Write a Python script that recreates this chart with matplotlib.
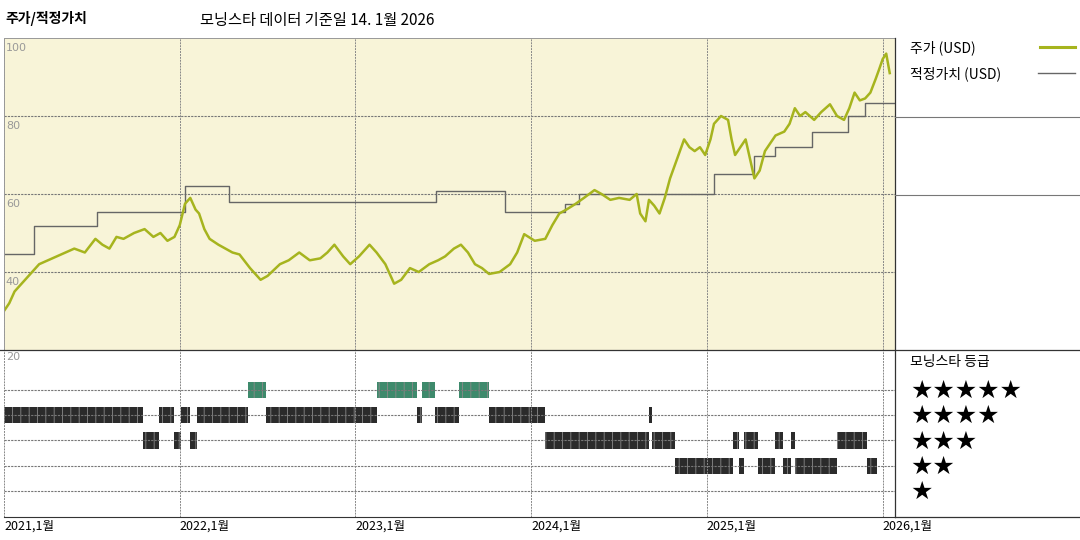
import matplotlib.pyplot as plt
from matplotlib.lines import Line2D

plt.rcParams['font.family'] = ['Noto Sans CJK KR', 'DejaVu Sans']
plt.rcParams['hatch.linewidth'] = 0.6

# price (decimal year, USD)
price_t = [2021.00, 2021.03, 2021.06, 2021.08, 2021.12, 2021.16, 2021.2, 2021.25, 2021.3, 2021.35, 2021.4,
           2021.46, 2021.52, 2021.56, 2021.6, 2021.64, 2021.68, 2021.74, 2021.8, 2021.85, 2021.89, 2021.93,
           2021.97, 2022.0, 2022.03, 2022.06, 2022.09, 2022.11, 2022.14, 2022.17, 2022.22, 2022.26, 2022.3,
           2022.34, 2022.4, 2022.46, 2022.5, 2022.57, 2022.62, 2022.68, 2022.74, 2022.8, 2022.84, 2022.88,
           2022.93, 2022.97, 2023.02, 2023.08, 2023.12, 2023.17, 2023.22, 2023.26, 2023.31, 2023.36, 2023.42,
           2023.47, 2023.51, 2023.56, 2023.6, 2023.64, 2023.68, 2023.72, 2023.76, 2023.82, 2023.88, 2023.92,
           2023.96, 2024.02, 2024.08, 2024.12, 2024.16, 2024.2, 2024.25, 2024.3, 2024.36, 2024.4, 2024.45,
           2024.5, 2024.56, 2024.6, 2024.62, 2024.65, 2024.67, 2024.7, 2024.73, 2024.76, 2024.79, 2024.83,
           2024.87, 2024.9, 2024.93, 2024.96, 2024.99, 2025.02, 2025.04, 2025.08, 2025.12, 2025.14, 2025.16,
           2025.19, 2025.22, 2025.25, 2025.27, 2025.3, 2025.33, 2025.36, 2025.39, 2025.44, 2025.47, 2025.5,
           2025.53, 2025.56, 2025.61, 2025.65, 2025.7, 2025.74, 2025.78, 2025.81, 2025.84, 2025.87, 2025.9,
           2025.93, 2025.96, 2025.98, 2026.0, 2026.02, 2026.04]
price_v = [30, 32, 35, 36, 38, 40, 42, 43, 44, 45, 46,
           45, 48.5, 47, 46, 49, 48.5, 50, 51, 49, 50, 48,
           49, 52, 57.5, 59, 56, 55, 51, 48.5, 47, 46, 45,
           44.5, 41, 38, 39, 42, 43, 45, 43, 43.5, 45, 47,
           44, 42, 44, 47, 45, 42, 37, 38, 41, 40, 42,
           43, 44, 46, 47, 45, 42, 41, 39.5, 40, 42, 45,
           49.7, 48, 48.5, 52, 55, 56, 57.4, 59, 61, 60, 58.5,
           59, 58.5, 60, 55, 53, 58.5, 57, 55, 59, 64, 69,
           74, 72, 71, 72, 70, 74, 78, 80, 79, 74, 70,
           72, 74, 68, 64, 66, 71, 73, 75, 76, 78, 82,
           80, 81, 79, 81, 83, 80, 79, 82, 86, 84, 84.5,
           86, 89.5, 92, 94.6, 96, 91]

# fair value steps (start year, USD)
fv_t = [2021.0, 2021.17, 2021.53, 2022.03, 2022.28, 2023.46, 2023.85, 2024.19, 2024.27, 2025.04,
        2025.27, 2025.39, 2025.6, 2025.8, 2025.9, 2026.07]
fv_v = [44.6, 51.8, 55.4, 62, 58, 60.8, 55.4, 57.4, 60, 65, 69.7, 72, 76, 80, 83.3, 83.3]

# star rating segments (start, end, stars)
rating_seg = [(2021.0, 2021.79, 4), (2021.79, 2021.88, 3), (2021.88, 2021.97, 4), (2021.97, 2022.01, 3),
              (2022.01, 2022.06, 4), (2022.06, 2022.10, 3), (2022.10, 2022.39, 4), (2022.39, 2022.49, 5),
              (2022.49, 2023.12, 4), (2023.12, 2023.35, 5), (2023.35, 2023.38, 4), (2023.38, 2023.45, 5),
              (2023.45, 2023.59, 4), (2023.59, 2023.76, 5), (2023.76, 2024.08, 4), (2024.08, 2024.67, 3),
              (2024.67, 2024.69, 4), (2024.69, 2024.82, 3), (2024.82, 2025.15, 2), (2025.15, 2025.18, 3),
              (2025.18, 2025.21, 2), (2025.21, 2025.29, 3), (2025.29, 2025.39, 2), (2025.39, 2025.43, 3),
              (2025.43, 2025.48, 2), (2025.48, 2025.50, 3), (2025.50, 2025.74, 2), (2025.74, 2025.91, 3),
              (2025.91, 2025.97, 2)]

years = [2021, 2022, 2023, 2024, 2025, 2026]
xmin, xmax = 2021.0, 2026.07

fig = plt.figure(figsize=(10.8, 5.4), dpi=100)
ax = fig.add_axes([4/1080, 1-350/540, 891/1080, 312/540])
ax2 = fig.add_axes([4/1080, 1-517/540, 891/1080, 167/540])

ax.set_facecolor('#f8f4d8')
ax.set_xlim(xmin, xmax)
ax.set_ylim(20, 100)
for y in [40, 60, 80]:
    ax.axhline(y, color='#777', lw=0.8, ls=(0, (2, 1)))
for y in years:
    ax.axvline(y, color='#888', lw=0.7, ls=(0, (2, 1)))
ax.plot(fv_t, fv_v, drawstyle='steps-post', color='#666', lw=1)
ax.plot(price_t, price_v, color='#a6b41e', lw=1.8)
for y in [100, 80, 60, 40]:
    ax.text(2021.01, y - 1.2, str(y), color='#999', fontsize=8, va='top', family=['DejaVu Sans'])
ax.set_xticks([]); ax.set_yticks([])
for s in ax.spines.values():
    s.set_color('#999'); s.set_linestyle((0, (2, 1))); s.set_linewidth(0.7)
ax.spines['right'].set_visible(False)

ax2.set_xlim(xmin, xmax)
ax2.set_ylim(-0.03, 6.58)
for r in range(1, 6):
    ax2.axhline(r, color='#777', lw=0.8, ls=(0, (2, 1)))
for y in years:
    ax2.axvline(y, color='#888', lw=0.7, ls=(0, (2, 1)))
for s0, s1, r in rating_seg:
    c = '#3e8a6c' if r == 5 else '#2b2b2b'
    ax2.broken_barh([(s0, s1 - s0)], (r - 0.32, 0.64), facecolor=c, edgecolor='#8a8a8a',
                    hatch='||', lw=0)
ax2.text(2021.01, 6.3, '20', color='#999', fontsize=8, va='center', family=['DejaVu Sans'])
ax2.set_xticks([]); ax2.set_yticks([])
for k in ['top', 'right', 'left']:
    ax2.spines[k].set_visible(False)
ax2.spines['bottom'].set_color('#333')
for y in years:
    ax2.text(y, -0.15, f'{y},1월', fontsize=9, va='top', ha='left')

# outer frame lines
fig.add_artist(Line2D([895/1080, 895/1080], [1-38/540, 1-517/540], color='#333', lw=0.9))
fig.add_artist(Line2D([0, 1], [1-350/540, 1-350/540], color='#333', lw=0.9))
fig.add_artist(Line2D([895/1080, 1], [1-517/540, 1-517/540], color='#333', lw=0.9))
for py in [117, 195]:
    fig.add_artist(Line2D([895/1080, 1], [1-py/540, 1-py/540], color='#777', lw=0.8))

fig.text(5/1080, 1-18/540, '주가/적정가치', fontsize=10, fontweight='bold', va='center')
fig.text(200/1080, 1-20/540, '모닝스타 데이터 기준일 14. 1월 2026', fontsize=11, va='center')
fig.text(910/1080, 1-48/540, '주가 (USD)', fontsize=10, va='center')
fig.add_artist(Line2D([1040/1080, 1075/1080], [1-47/540, 1-47/540], color='#a6b41e', lw=2.2))
fig.text(910/1080, 1-74/540, '적정가치 (USD)', fontsize=10, va='center')
fig.add_artist(Line2D([1038/1080, 1075/1080], [1-73/540, 1-73/540], color='#666', lw=1))
fig.text(910/1080, 1-362/540, '모닝스타 등급', fontsize=10, va='center')
for i, n in enumerate([5, 4, 3, 2, 1]):
    fig.text(910/1080, 1-(391 + i*25.3)/540, '★' * n, fontsize=18, va='center', family=['DejaVu Sans'])

fig.savefig('out.png', dpi=100)
